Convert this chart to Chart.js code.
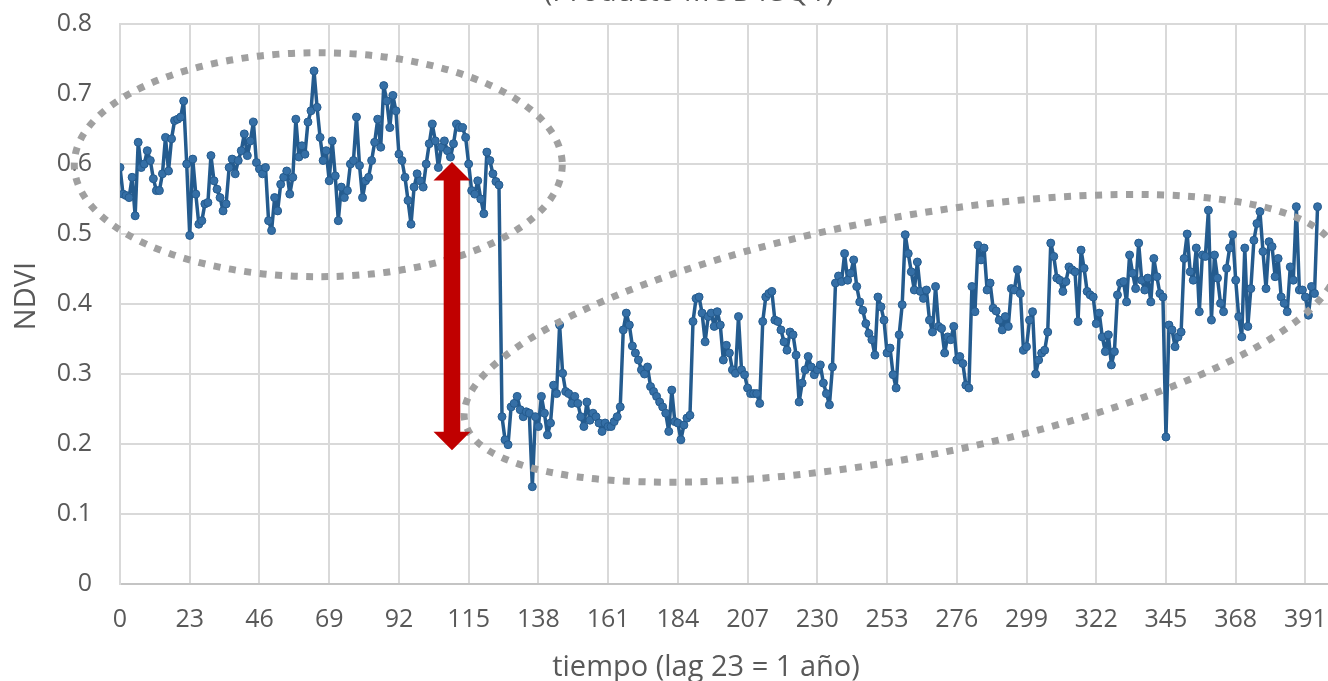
<!DOCTYPE html>
<html>
<head>
<meta charset="utf-8">
<title>NDVI</title>
<script src="https://cdn.jsdelivr.net/npm/chart.js@4.4.1/dist/chart.umd.min.js"></script>
<style>
  html, body { margin: 0; padding: 0; background: #ffffff; overflow: hidden; }
  #wrap { width: 1328px; height: 681px; overflow: hidden; position: relative; }
  canvas { display: block; }
</style>
</head>
<body>
<div id="wrap"><canvas id="c" width="1420" height="681"></canvas></div>
<script>
// NDVI per 16-day composite (23 composites = 1 year), one row per year
const ndvi = [
  0.595,0.557,0.555,0.552,0.581,0.526,0.631,0.595,0.6,0.619,0.605,0.579,0.562,0.562,0.586,0.638,0.59,0.636,0.662,0.664,0.667,0.69,0.6,
  0.498,0.607,0.557,0.514,0.519,0.543,0.545,0.612,0.576,0.564,0.552,0.533,0.543,0.595,0.607,0.586,0.605,0.619,0.643,0.612,0.633,0.66,0.602,
  0.593,0.586,0.595,0.519,0.505,0.552,0.533,0.571,0.581,0.59,0.557,0.581,0.664,0.61,0.626,0.614,0.66,0.676,0.733,0.681,0.638,0.605,0.619,
  0.576,0.633,0.583,0.519,0.567,0.552,0.562,0.6,0.605,0.667,0.598,0.552,0.576,0.581,0.605,0.631,0.664,0.624,0.712,0.69,0.652,0.698,0.676,
  0.614,0.605,0.581,0.548,0.514,0.567,0.586,0.576,0.567,0.6,0.629,0.657,0.633,0.595,0.624,0.633,0.619,0.61,0.629,0.657,0.652,0.652,0.638,
  0.6,0.562,0.557,0.576,0.55,0.529,0.617,0.605,0.586,0.575,0.57,0.239,0.206,0.199,0.253,0.258,0.268,0.249,0.239,0.246,0.244,0.139,0.239,
  0.225,0.268,0.244,0.213,0.23,0.284,0.272,0.37,0.301,0.275,0.272,0.258,0.268,0.258,0.239,0.225,0.26,0.234,0.244,0.239,0.23,0.218,0.23,
  0.225,0.225,0.232,0.239,0.253,0.363,0.387,0.37,0.34,0.33,0.32,0.306,0.3,0.31,0.282,0.275,0.268,0.26,0.253,0.244,0.218,0.277,0.232,
  0.23,0.206,0.227,0.237,0.241,0.375,0.408,0.41,0.387,0.346,0.382,0.387,0.368,0.389,0.37,0.32,0.341,0.33,0.306,0.301,0.382,0.306,0.299,
  0.28,0.272,0.272,0.272,0.258,0.375,0.41,0.415,0.418,0.377,0.375,0.363,0.346,0.334,0.36,0.356,0.327,0.26,0.287,0.306,0.325,0.31,0.299,
  0.306,0.313,0.287,0.272,0.256,0.31,0.43,0.44,0.432,0.472,0.434,0.444,0.463,0.425,0.403,0.391,0.372,0.358,0.349,0.327,0.41,0.396,0.377,
  0.33,0.337,0.299,0.28,0.356,0.399,0.499,0.472,0.446,0.42,0.46,0.418,0.408,0.42,0.377,0.36,0.425,0.368,0.365,0.33,0.353,0.349,0.368,
  0.32,0.325,0.315,0.284,0.28,0.425,0.389,0.484,0.463,0.48,0.42,0.43,0.394,0.39,0.377,0.363,0.382,0.368,0.422,0.42,0.449,0.415,0.334,
  0.339,0.377,0.389,0.3,0.32,0.33,0.334,0.36,0.487,0.468,0.437,0.434,0.418,0.432,0.453,0.449,0.446,0.375,0.477,0.451,0.418,0.413,0.41,
  0.372,0.387,0.353,0.332,0.356,0.313,0.332,0.413,0.43,0.432,0.403,0.47,0.444,0.422,0.487,0.434,0.42,0.437,0.403,0.465,0.439,0.415,0.41,
  0.21,0.37,0.363,0.339,0.353,0.36,0.465,0.5,0.446,0.434,0.48,0.389,0.47,0.468,0.534,0.377,0.47,0.437,0.401,0.389,0.451,0.48,0.499,
  0.434,0.382,0.353,0.48,0.368,0.422,0.491,0.515,0.532,0.475,0.422,0.489,0.482,0.439,0.465,0.41,0.401,0.389,0.453,0.434,0.539,0.42,0.42,
  0.41,0.384,0.425,0.415,0.539
];

// Axis ticks: one gridline per year (23 lags)
const xTickValues = [0, 23, 46, 69, 92, 115, 138, 161, 184, 207, 230, 253, 276, 299, 322, 345, 368, 391, 414];
const yTickValues = [0, 0.1, 0.2, 0.3, 0.4, 0.5, 0.6, 0.7, 0.8];

const chartTitle = '(Producto MOD13Q1)';
const xTitle = 'tiempo (lag 23 = 1 año)';
const yTitle = 'NDVI';

// Dotted outlines grouping the two regimes (centre in data units, radii in px)
const regimeOutlines = [
  { cx: 65.4,  cy: 0.599, rx: 244, ry: 112, angle: 0 },
  { cx: 257.6, cy: 0.351, rx: 444, ry: 120, angle: -10.7 }
];
// Double-headed arrow marking the drop between regimes
const dropArrow = { x: 109.5, from: 0.603, to: 0.191 };

const points = ndvi.map((v, i) => ({ x: i, y: v }));

const FONT = '"Open Sans", "Noto Sans", sans-serif';
const TEXT = '#595959';

const overlay = {
  id: 'overlay',
  afterDraw(chart) {
    const { ctx, scales: { x, y } } = chart;
    ctx.save();

    // dotted outlines
    ctx.strokeStyle = '#a0a0a0';
    ctx.lineWidth = 7;
    ctx.lineCap = 'butt';
    ctx.setLineDash([7, 8.5]);
    for (const e of regimeOutlines) {
      ctx.beginPath();
      ctx.ellipse(x.getPixelForValue(e.cx), y.getPixelForValue(e.cy), e.rx, e.ry,
                  e.angle * Math.PI / 180, 0, Math.PI * 2);
      ctx.stroke();
    }
    ctx.setLineDash([]);

    // red arrow
    const ax = x.getPixelForValue(dropArrow.x);
    const y1 = y.getPixelForValue(dropArrow.from);
    const y2 = y.getPixelForValue(dropArrow.to);
    const hw = 18.5, hl = 18.5, sw = 8.3;
    ctx.fillStyle = '#c00000';
    ctx.beginPath();
    ctx.moveTo(ax, y1);
    ctx.lineTo(ax + hw, y1 + hl);
    ctx.lineTo(ax + sw, y1 + hl);
    ctx.lineTo(ax + sw, y2 - hl);
    ctx.lineTo(ax + hw, y2 - hl);
    ctx.lineTo(ax, y2);
    ctx.lineTo(ax - hw, y2 - hl);
    ctx.lineTo(ax - sw, y2 - hl);
    ctx.lineTo(ax - sw, y1 + hl);
    ctx.lineTo(ax - hw, y1 + hl);
    ctx.closePath();
    ctx.fill();

    // titles
    ctx.fillStyle = TEXT;
    ctx.textAlign = 'center';
    ctx.textBaseline = 'alphabetic';
    ctx.font = '29px ' + FONT;
    ctx.fillText(chartTitle, 689, 1);   // sits above the canvas top, only its lower edge shows
    ctx.fillText(xTitle, 706, 676);
    ctx.translate(35, 296);
    ctx.rotate(-Math.PI / 2);
    ctx.fillText(yTitle, 0, 0);

    ctx.restore();
  }
};

new Chart(document.getElementById('c'), {
  type: 'line',
  data: {
    datasets: [{
      data: points,
      borderColor: '#245b8e',
      borderWidth: 3.5,
      borderJoinStyle: 'round',
      pointRadius: 4,
      pointBackgroundColor: '#356fa6',
      pointBorderColor: '#245b8e',
      pointBorderWidth: 1,
      tension: 0
    }]
  },
  options: {
    responsive: false,
    animation: false,
    devicePixelRatio: 1,
    layout: { padding: { top: 24, left: 0, right: 0, bottom: 0 } },
    plugins: {
      legend: { display: false },
      tooltip: { enabled: false },
      title: { display: false }
    },
    scales: {
      x: {
        type: 'linear',
        min: 0,
        max: 1300 * 23 / 70,
        afterBuildTicks: s => { s.ticks = xTickValues.map(v => ({ value: v })); },
        afterFit: s => { s.height = 97; },
        ticks: {
          color: TEXT, font: { family: FONT, size: 25 }, padding: 0,
          maxRotation: 0, autoSkip: false, includeBounds: false
        },
        grid: { color: '#d9d9d9', lineWidth: 2, drawTicks: true, tickLength: 21, tickColor: 'rgba(0,0,0,0)' },
        border: { color: '#c4c4c4', width: 2 }
      },
      y: {
        min: 0,
        max: 0.8,
        afterBuildTicks: s => { s.ticks = yTickValues.map(v => ({ value: v })); },
        afterFit: s => { s.width = 120; },
        ticks: { color: TEXT, font: { family: FONT, size: 25 }, padding: 0 },
        grid: { color: '#d9d9d9', lineWidth: 2, drawTicks: true, tickLength: 28, tickColor: 'rgba(0,0,0,0)' },
        border: { color: '#d9d9d9', width: 2 }
      }
    }
  },
  plugins: [overlay]
});
</script>
</body>
</html>
